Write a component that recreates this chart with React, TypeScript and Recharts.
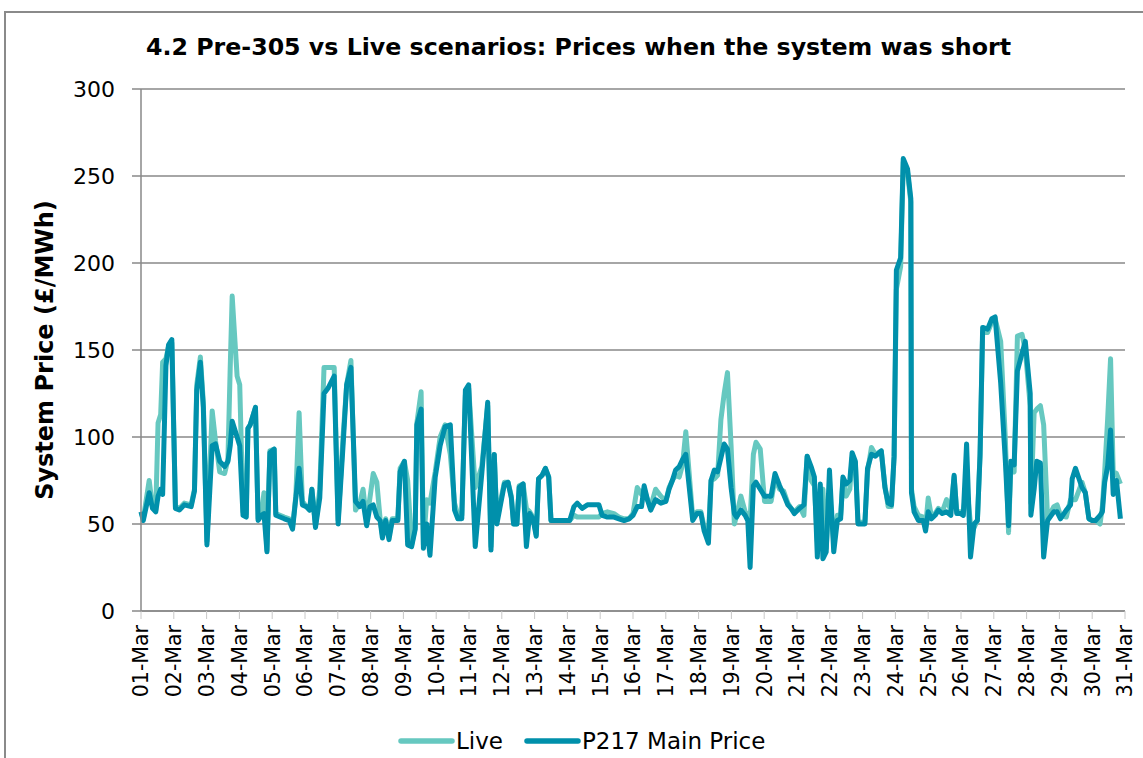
import { LineChart, Line, XAxis, YAxis, CartesianGrid, Legend } from "recharts";

const dayLabels = [
  "01-Mar", "02-Mar", "03-Mar", "04-Mar", "05-Mar", "06-Mar", "07-Mar", "08-Mar",
  "09-Mar", "10-Mar", "11-Mar", "12-Mar", "13-Mar", "14-Mar", "15-Mar", "16-Mar",
  "17-Mar", "18-Mar", "19-Mar", "20-Mar", "21-Mar", "22-Mar", "23-Mar", "24-Mar",
  "25-Mar", "26-Mar", "27-Mar", "28-Mar", "29-Mar", "30-Mar", "31-Mar",
];
const dayTicks = dayLabels.map((_, i) => i);
const priceTicks = [0, 50, 100, 150, 200, 250, 300];

// short periods, as days after 01-Mar 00:00
const periods = [
  0.0, 0.07, 0.25, 0.35, 0.45, 0.52, 0.6, 0.66, 0.76, 0.84, 0.94,
  1.05, 1.17, 1.32, 1.53, 1.63, 1.7, 1.81, 1.9,
  2.01, 2.17, 2.27, 2.4, 2.55, 2.65, 2.72, 2.78, 2.93,
  3.01, 3.11, 3.21, 3.26, 3.33, 3.49, 3.57, 3.67, 3.75, 3.84, 3.93,
  4.06, 4.11, 4.37, 4.52, 4.62, 4.72, 4.82, 4.92,
  5.04, 5.14, 5.21, 5.32, 5.45, 5.58, 5.7, 5.89,
  6.01, 6.16, 6.27, 6.4, 6.54, 6.67, 6.77, 6.88, 6.98,
  7.08, 7.19, 7.29, 7.36, 7.46, 7.56, 7.66, 7.83, 7.9,
  8.03, 8.13, 8.25, 8.36, 8.41, 8.54, 8.61, 8.71, 8.81, 8.97,
  9.12, 9.27, 9.43, 9.56, 9.66, 9.78, 9.89, 9.99,
  10.19, 10.39, 10.57, 10.67, 10.77, 10.85, 10.97,
  11.08, 11.19, 11.29, 11.36, 11.46, 11.53, 11.65, 11.75, 11.85, 11.95,
  12.05, 12.12, 12.23, 12.33, 12.43, 12.5, 12.69, 12.89,
  13.07, 13.2, 13.3, 13.45, 13.61, 13.76, 13.96,
  14.06, 14.22, 14.42, 14.57, 14.73, 14.88,
  15.0, 15.13, 15.26, 15.34, 15.44, 15.54, 15.69, 15.85,
  16.0, 16.1, 16.2, 16.3, 16.41, 16.51, 16.61, 16.82, 16.95,
  17.07, 17.17, 17.3, 17.38, 17.48, 17.58, 17.68, 17.78, 17.88, 17.99,
  18.09, 18.16, 18.29, 18.42, 18.5, 18.57, 18.67, 18.75, 18.88,
  19.01, 19.21, 19.33, 19.47, 19.59, 19.72, 19.82, 19.92,
  20.08, 20.21, 20.31, 20.43, 20.53, 20.62, 20.71, 20.79, 20.89, 20.99,
  21.12, 21.23, 21.33, 21.4, 21.5, 21.61, 21.68, 21.78, 21.86,
  22.07, 22.15, 22.27, 22.39, 22.57, 22.68, 22.78, 22.88, 22.96,
  23.03, 23.16, 23.24, 23.37, 23.47, 23.49, 23.57, 23.7, 23.85, 23.92,
  24.0, 24.1, 24.21, 24.31, 24.43, 24.56, 24.69, 24.79, 24.87, 24.99,
  25.07, 25.17, 25.29, 25.4, 25.5, 25.58, 25.66, 25.81, 25.94,
  26.04, 26.21, 26.35, 26.45, 26.52, 26.62, 26.72, 26.86, 26.96,
  27.11, 27.13, 27.23, 27.31, 27.42, 27.52, 27.64, 27.83, 27.93,
  28.03, 28.21, 28.34, 28.39, 28.49, 28.69, 28.79, 28.9,
  29.0, 29.1, 29.24, 29.31, 29.38, 29.47, 29.56, 29.64, 29.74, 29.86,
];

const p217Price = [
  57, 52, 68, 59, 57, 66, 70, 67, 141, 153, 156,
  59, 58, 61, 60, 69, 127, 143, 117,
  38, 95, 96, 86, 83, 86, 95, 109, 100,
  95, 55, 54, 105, 107, 117, 52, 55, 56, 34, 91,
  93, 55, 53, 52, 47, 65, 82, 61,
  60, 58, 70, 48, 65, 125, 128, 135,
  50, 95, 130, 140, 63, 60, 63, 49, 60,
  61, 54, 52, 42, 52, 41, 52, 52, 80,
  86, 38, 37, 47, 107, 116, 36, 50, 32, 77,
  95, 106, 107, 58, 53, 53, 127, 130,
  37, 79, 120, 35, 90, 50, 62,
  73, 74, 65, 50, 50, 71, 73, 37, 56, 53,
  43, 76, 78, 82, 77, 52, 52, 52,
  52, 60, 62, 59, 61, 61, 61,
  55, 54, 54, 53, 52, 53,
  55, 60, 60, 72, 64, 58, 64, 62,
  63, 70, 75, 81, 83, 87, 90, 52, 56,
  56, 46, 39, 75, 81, 80, 88, 96, 93, 71,
  56, 54, 58, 55, 52, 25, 72, 74, 70,
  66, 66, 79, 72, 67, 61, 59, 56,
  59, 61, 89, 83, 77, 31, 73, 30, 34, 81,
  34, 52, 53, 77, 73, 75, 91, 86, 50,
  50, 82, 90, 89, 92, 71, 62, 61, 89,
  196, 203, 260, 254, 237, 68, 57, 52, 52, 46,
  57, 53, 55, 58, 56, 57, 55, 78, 56, 56,
  55, 96, 31, 50, 52, 89, 163, 162, 168,
  169, 131, 87, 49, 86, 84, 138, 148, 155,
  125, 55, 70, 86, 85, 31, 52, 57, 57,
  53, 58, 61, 76, 82, 71, 68, 53,
  52, 52, 55, 57, 74, 83, 104, 67, 75, 53,
];

const livePrice = [
  57, 53, 75, 60, 58, 108, 113, 143, 145, 152, 154,
  60, 59, 62, 61, 70, 130, 146, 120,
  40, 115, 98, 80, 79, 87, 140, 181, 135,
  130, 57, 56, 105, 107, 117, 53, 56, 68, 35, 92,
  93, 56, 54, 53, 48, 66, 114, 63,
  60, 58, 70, 49, 70, 140, 140, 140,
  52, 100, 130, 144, 58, 62, 70, 52, 65,
  79, 74, 53, 44, 53, 43, 53, 53, 82,
  86, 75, 38, 48, 108, 126, 38, 64, 62, 80,
  100, 107, 90, 62, 55, 55, 124, 128,
  71, 83, 118, 37, 90, 52, 64,
  74, 74, 66, 50, 50, 72, 73, 59, 57, 54,
  44, 76, 78, 82, 77, 52, 52, 52,
  52, 55, 54, 54, 54, 54, 54,
  56, 57, 56, 54, 53, 53,
  56, 71, 67, 70, 64, 60, 70, 66,
  63, 71, 75, 78, 77, 84, 103, 54, 57,
  57, 48, 44, 75, 76, 78, 110, 125, 137, 95,
  50, 55, 66, 57, 55, 52, 90, 97, 93,
  63, 63, 76, 70, 69, 62, 59, 57,
  60, 55, 89, 75, 72, 40, 65, 70, 36, 68,
  40, 55, 55, 75, 66, 70, 88, 85, 51,
  51, 80, 94, 90, 92, 72, 60, 60, 88,
  185, 198, 258, 252, 235, 70, 60, 55, 54, 48,
  65, 54, 56, 59, 57, 64, 58, 77, 57, 57,
  56, 73, 50, 48, 52, 90, 160, 160, 166,
  168, 155, 100, 45, 83, 80, 158, 159, 150,
  118, 62, 114, 116, 118, 107, 53, 60, 61,
  55, 54, 64, 64, 64, 74, 68, 53,
  52, 52, 50, 60, 80, 110, 145, 80, 79, 73,
];

const rows = periods.map((d, i) => ({ day: d, live: livePrice[i], p217: p217Price[i] }));

const FONT = "'DejaVu Sans', Verdana, sans-serif";
const LIVE_COLOR = "#66c8c0";
const P217_COLOR = "#0090ab";
const GRID = "#898989";

function DayTick(props: any) {
  const { x, y, payload } = props;
  return (
    <text
      x={x}
      y={y}
      transform={`rotate(-90, ${x}, ${y})`}
      textAnchor="end"
      dy="0.36em"
      fontSize={20.5}
      fontFamily={FONT}
      fill="#000"
    >
      {dayLabels[payload.value]}
    </text>
  );
}

function LegendBox() {
  const items = [
    { name: "Live", color: LIVE_COLOR },
    { name: "P217 Main Price", color: P217_COLOR },
  ];
  return (
    <div
      style={{
        display: "flex",
        paddingLeft: 397,
        paddingTop: 4,
        fontFamily: FONT,
        fontSize: 23,
        lineHeight: "26px",
      }}
    >
      {items.map((it) => (
        <div key={it.name} style={{ display: "flex", alignItems: "center", marginRight: 20 }}>
          <svg width={58} height={10}>
            <line x1={4} y1={5} x2={55} y2={5} stroke={it.color} strokeWidth={5.5} strokeLinecap="round" />
          </svg>
          <span style={{ marginLeft: 1 }}>{it.name}</span>
        </div>
      ))}
    </div>
  );
}

export default function App() {
  return (
    <div
      style={{
        position: "absolute",
        left: 0,
        top: 0,
        width: 1143,
        height: 758,
        overflow: "hidden",
        background: "#fff",
      }}
    >
      <div
        style={{
          position: "absolute",
          left: 4,
          top: 11,
          width: 1200,
          height: 800,
          border: "2px solid #8a8a8a",
        }}
      />
      <div
        style={{
          position: "absolute",
          left: 146,
          top: 33,
          fontFamily: FONT,
          fontWeight: "bold",
          fontSize: 23.7,
          lineHeight: "28px",
          whiteSpace: "nowrap",
        }}
      >
        4.2 Pre-305 vs Live scenarios: Prices when the system was short
      </div>
      <div style={{ position: "absolute", left: 0, top: 0 }}>
        <LineChart
          width={1143}
          height={758}
          data={rows}
          margin={{ top: 89, right: 18, bottom: 0, left: 0 }}
        >
          <CartesianGrid vertical={false} stroke={GRID} strokeWidth={1.5} />
          <XAxis
            dataKey="day"
            type="number"
            domain={[0, 30]}
            ticks={dayTicks}
            interval={0}
            height={113}
            tickSize={8}
            tickMargin={6}
            tick={<DayTick />}
            axisLine={{ stroke: GRID, strokeWidth: 1.5 }}
            tickLine={{ stroke: "#c8c8c8" }}
          />
          <YAxis
            domain={[0, 300]}
            ticks={priceTicks}
            width={141}
            tickSize={9}
            tickMargin={17}
            tick={{ fontSize: 22, fill: "#000", fontFamily: FONT }}
            axisLine={{ stroke: GRID, strokeWidth: 1.5 }}
            tickLine={{ stroke: GRID, strokeWidth: 1.5 }}
            label={{
              value: "System Price (£/MWh)",
              angle: -90,
              position: "insideLeft",
              offset: 44,
              style: { fontSize: 24, fontWeight: "bold", fontFamily: FONT, fill: "#000", textAnchor: "middle" },
            }}
          />
          <Legend verticalAlign="bottom" height={34} content={<LegendBox />} />
          <Line
            dataKey="live"
            name="Live"
            stroke={LIVE_COLOR}
            strokeWidth={5}
            dot={false}
            strokeLinejoin="round"
            isAnimationActive={false}
          />
          <Line
            dataKey="p217"
            name="P217 Main Price"
            stroke={P217_COLOR}
            strokeWidth={5}
            dot={false}
            strokeLinejoin="round"
            isAnimationActive={false}
          />
        </LineChart>
      </div>
    </div>
  );
}
